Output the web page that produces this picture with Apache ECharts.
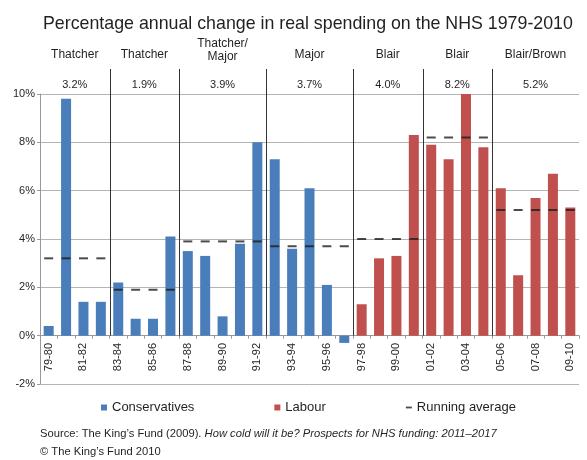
<!DOCTYPE html>
<html>
<head>
<meta charset="utf-8">
<script src="https://cdn.jsdelivr.net/npm/echarts@6/dist/echarts.min.js"></script>
<style>
  html, body { margin: 0; padding: 0; background: #fff; }
  #chart { width: 587px; height: 460px; }
</style>
</head>
<body>
<div id="chart"></div>
<script>
// Financial years, 1979-80 to 2009-10
const categories = [
  '79-80', '80-81', '81-82', '82-83', '83-84', '84-85', '85-86', '86-87',
  '87-88', '88-89', '89-90', '90-91', '91-92', '92-93', '93-94', '94-95',
  '95-96', '96-97', '97-98', '98-99', '99-00', '00-01', '01-02', '02-03',
  '03-04', '04-05', '05-06', '06-07', '07-08', '08-09', '09-10'
];

// Annual real-terms change (%) under each party
const conservatives = [
  0.4, 9.8, 1.4, 1.4, 2.2, 0.7, 0.7, 4.1,
  3.5, 3.3, 0.8, 3.8, 8.0, 7.3, 3.6, 6.1,
  2.1, -0.3, null, null, null, null, null, null,
  null, null, null, null, null, null, null
];
const labour = [
  null, null, null, null, null, null, null, null,
  null, null, null, null, null, null, null, null,
  null, null, 1.3, 3.2, 3.3, 8.3, 7.9, 7.3,
  10.0, 7.8, 6.1, 2.5, 5.7, 6.7, 5.3
];

// Government periods: heading, number of years, average change (%)
const groupNames = ['Thatcher', 'Thatcher', 'Thatcher/\nMajor', 'Major', 'Blair', 'Blair', 'Blair/Brown'];
const groupSizes = [4, 4, 5, 5, 4, 4, 5];
const groupAverages = [3.2, 1.9, 3.9, 3.7, 4.0, 8.2, 5.2];

const yTicks = [-2, 0, 2, 4, 6, 8, 10];

// Running average per year = average of the period it belongs to
const runningAverage = [];
groupSizes.forEach((n, g) => {
  for (let k = 0; k < n; k++) runningAverage.push(groupAverages[g]);
});

const FONT = 'Liberation Sans, Arial, sans-serif';
const TEXT = '#231f20';
const BLUE = '#4a7ebb';
const RED = '#c0504d';

const chart = echarts.init(document.getElementById('chart'), null, { renderer: 'canvas' });

const option = {
  animation: false,
  backgroundColor: '#fff',
  textStyle: { fontFamily: FONT, color: TEXT },
  title: {
    text: 'Percentage annual change in real spending on the NHS 1979-2010',
    left: 38,
    top: 10,
    textStyle: { fontFamily: FONT, fontSize: 17.8, fontWeight: 'normal', color: TEXT }
  },
  legend: {
    left: 96,
    top: 396,
    itemWidth: 6,
    itemHeight: 6,
    itemGap: 80,
    symbolKeepAspect: true,
    textStyle: { fontFamily: FONT, fontSize: 13, color: TEXT },
    data: [
      { name: 'Conservatives', icon: 'rect' },
      { name: 'Labour', icon: 'rect' },
      { name: 'Running average', icon: 'path://M0,0H10V3H0Z' }
    ]
  },
  grid: { left: 40, right: 8, top: 94, bottom: 76, containLabel: false },
  xAxis: {
    type: 'category',
    data: categories,
    axisLine: { onZero: true, lineStyle: { color: '#999', width: 1 } },
    axisTick: { show: true, interval: 0, alignWithLabel: false, length: 3, lineStyle: { color: '#999' } },
    axisLabel: {
      interval: 1,
      rotate: 90,
      margin: -41,
      fontSize: 11,
      fontFamily: FONT,
      color: TEXT
    },
    splitLine: { show: false }
  },
  yAxis: {
    type: 'value',
    min: yTicks[0],
    max: yTicks[yTicks.length - 1],
    interval: 2,
    axisLine: { show: true, lineStyle: { color: '#999' } },
    axisTick: { show: true, length: 3, lineStyle: { color: '#999' } },
    axisLabel: { formatter: '{value}%', fontSize: 11, fontFamily: FONT, color: TEXT, margin: 5 },
    splitLine: { lineStyle: { color: '#b4b4b4', width: 1 } }
  },
  series: [
    {
      name: 'Conservatives',
      type: 'bar',
      data: conservatives,
      barWidth: 10,
      barGap: '-100%',
      itemStyle: { color: BLUE }
    },
    {
      name: 'Labour',
      type: 'bar',
      data: labour,
      barWidth: 10,
      itemStyle: { color: RED }
    },
    {
      name: 'Running average',
      type: 'scatter',
      data: runningAverage,
      symbol: 'rect',
      symbolSize: [9, 2],
      itemStyle: { color: '#1e1e1e' },
      z: 5,
      silent: true
    }
  ]
};

chart.setOption(option);

// Period separators and headings, placed through the category axis
function buildGraphics() {
  const px = i => chart.convertToPixel({ xAxisIndex: 0 }, i);
  const zeroY = chart.convertToPixel({ yAxisIndex: 0 }, 0);
  const step = px(1) - px(0);
  const elements = [];
  let start = 0;
  groupSizes.forEach((n, g) => {
    const left = px(start) - step / 2;
    const right = px(start + n - 1) + step / 2;
    const center = (left + right) / 2;
    if (g > 0) {
      elements.push({
        type: 'line',
        shape: { x1: Math.round(left) + 0.5, y1: 69, x2: Math.round(left) + 0.5, y2: zeroY },
        style: { stroke: '#333', lineWidth: 1 },
        z: 10
      });
    }
    const twoLines = groupNames[g].indexOf('\n') >= 0;
    elements.push({
      type: 'text',
      x: center,
      y: twoLines ? 50 : 55,
      style: {
        text: groupNames[g],
        fontFamily: FONT,
        fontSize: 12,
        fill: TEXT,
        align: 'center',
        verticalAlign: 'middle',
        lineHeight: 13
      },
      z: 10
    });
    elements.push({
      type: 'text',
      x: center,
      y: 85,
      style: {
        text: groupAverages[g].toFixed(1) + '%',
        fontFamily: FONT,
        fontSize: 11,
        fill: TEXT,
        align: 'center',
        verticalAlign: 'middle'
      },
      z: 10
    });
    start += n;
  });

  elements.push({
    type: 'text',
    x: 40,
    y: 434,
    style: {
      text: '{n|Source: The King’s Fund (2009). }{i|How cold will it be? Prospects for NHS funding: 2011–2017}',
      verticalAlign: 'middle',
      rich: {
        n: { fontFamily: FONT, fontSize: 11.2, fill: TEXT },
        i: { fontFamily: FONT, fontSize: 11.2, fontStyle: 'italic', fill: TEXT }
      }
    }
  });
  elements.push({
    type: 'text',
    x: 40,
    y: 452,
    style: {
      text: '© The King’s Fund 2010',
      fontFamily: FONT,
      fontSize: 11.2,
      fill: TEXT,
      verticalAlign: 'middle'
    }
  });
  chart.setOption({ graphic: { elements: elements } });
}

buildGraphics();
</script>
</body>
</html>
